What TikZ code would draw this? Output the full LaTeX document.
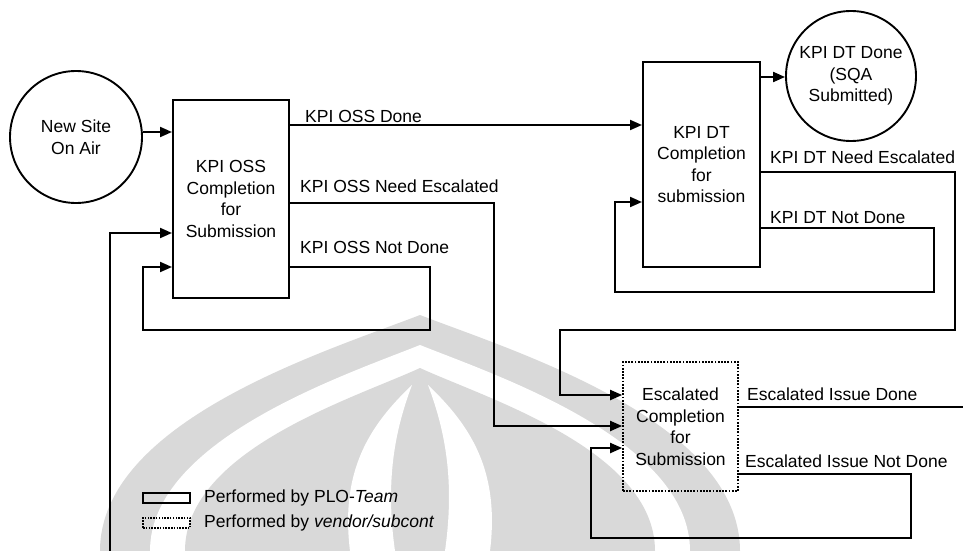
\documentclass[tikz,border=0pt]{standalone}
\usepackage{fontspec}
\setmainfont{Liberation Sans}
\usetikzlibrary{arrows.meta}
\begin{document}
\begin{tikzpicture}[x=1pt,y=-1pt,
  txt/.style={font=\fontsize{17.5}{21.5}\selectfont},
  conn/.style={line width=2pt},
  arr/.style={conn,-{Triangle[length=12pt,width=10pt]}},
  proc/.style={txt,draw,line width=2pt,align=center,inner sep=0pt},
  vend/.style={proc,dash pattern=on 1.8pt off 1.4pt,line width=1.7pt},
  circ/.style={txt,draw,circle,line width=1.9pt,align=center,inner sep=0pt},
  lbl/.style={txt,anchor=base west,inner sep=0pt},
  wm/.style={fill=black!15,draw=none},
  wmw/.style={fill=white,draw=none}]
\useasboundingbox (0,0) rectangle (964,551);
% watermark
\fill[wm] (420,315) .. controls (330,350) and (100,420) .. (100,551) -- (740,551) .. controls (740,420) and (510,350) .. (420,315) -- cycle;
\fill[wmw] (420,345) .. controls (345,375) and (150,440) .. (150,551) -- (690,551) .. controls (690,440) and (495,375) .. (420,345) -- cycle;
\fill[wm] (420,368) .. controls (355,398) and (185,450) .. (185,551) -- (655,551) .. controls (655,450) and (485,398) .. (420,368) -- cycle;
\fill[wmw] (412,385) .. controls (370,425) and (340,470) .. (350,551) -- (395,551) .. controls (385,480) and (395,430) .. (412,385) -- cycle;
\fill[wmw] (428,385) .. controls (470,425) and (500,470) .. (490,551) -- (445,551) .. controls (455,480) and (445,430) .. (428,385) -- cycle;
% nodes
\node[circ,minimum size=132pt] (start) at (76,137) {New Site\\On Air};
\node[proc,minimum width=116pt,minimum height=198pt] (oss) at (231,199) {KPI OSS\\Completion\\for\\Submission};
\node[proc,minimum width=117pt,minimum height=205pt] (dt) at (701.5,164.5) {KPI DT\\Completion\\for\\submission};
\node[circ,minimum size=130pt] (fin) at (851,76) {KPI DT Done\\(SQA\\Submitted)};
\node[vend,minimum width=115pt,minimum height=129pt] (esc) at (680.5,426.5) {Escalated\\Completion\\for\\Submission};
% connectors
\draw[arr] (start.east |- 0,132) -- (oss.west |- 0,132);
\draw[arr] (oss.east |- 0,125) -- (dt.west |- 0,125);
\draw[arr] (oss.east |- 0,203) -| (494,426) -- (esc.west |- 0,426);
\draw[arr] (oss.east |- 0,267) -- (430,267) -- (430,330) -- (143,330) -- (143,267) -- (oss.west |- 0,267);
\draw[arr] (110,551) -- (110,233) -- (oss.west |- 0,233);
\draw[arr] (dt.east |- 0,77) -- (fin.west |- 0,77);
\draw[arr] (dt.east |- 0,172) -- (955,172) -- (955,330) -- (560,330) -- (560,395) -- (esc.west |- 0,395);
\draw[arr] (dt.east |- 0,228) -- (934,228) -- (934,292) -- (615,292) -- (615,202) -- (dt.west |- 0,202);
\draw[conn] (esc.east |- 0,407) -- (963,407);
\draw[arr] (esc.east |- 0,474) -- (911,474) -- (911,538) -- (591,538) -- (591,448) -- (esc.west |- 0,448);
% labels
\node[lbl] (l1) at (305,122) {KPI OSS Done};
\node[lbl] (l2) at (300,192) {KPI OSS Need Escalated};
\node[lbl] (l3) at (300,253) {KPI OSS Not Done};
\node[lbl] (l4) at (770,163) {KPI DT Need Escalated};
\node[lbl] (l5) at (770,223) {KPI DT Not Done};
\node[lbl] (l6) at (747,400) {Escalated Issue Done};
\node[lbl] (l7) at (745,467) {Escalated Issue Not Done};
% legend
\node[draw,line width=1.5pt,minimum width=47pt,minimum height=10pt,inner sep=0pt] (lg1) at (166.5,498) {};
\node[draw,line width=1.4pt,dash pattern=on 1.5pt off 1.3pt,minimum width=47pt,minimum height=10pt,inner sep=0pt] (lg2) at (166.5,523) {};
\node[txt,anchor=west,inner sep=0pt] (lt1) at (204,498) {Performed by PLO-\textit{Team}};
\node[txt,anchor=west,inner sep=0pt] (lt2) at (204,523) {Performed by \textit{vendor/subcont}};
\end{tikzpicture}
\end{document}
